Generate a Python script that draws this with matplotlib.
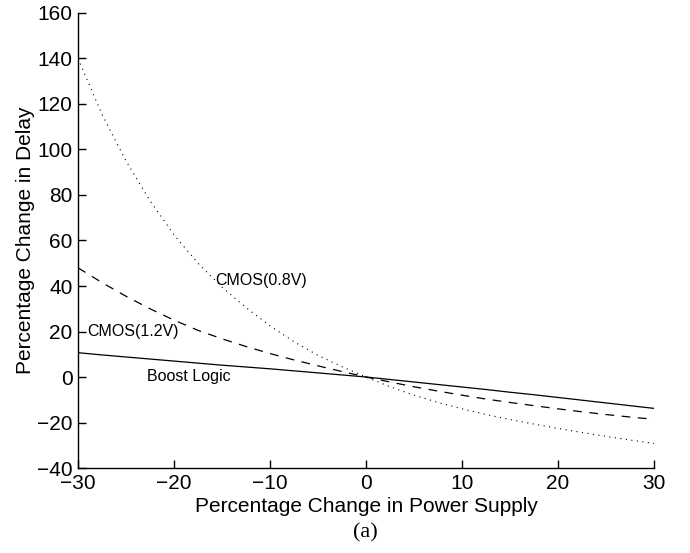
import matplotlib
matplotlib.use("Agg")
import matplotlib.pyplot as plt

plt.rcParams['font.family'] = ['Liberation Sans', 'DejaVu Sans']

# Percentage change in supply voltage
supply = [-30, -27.5, -25, -22.5, -20, -17.5, -15, -12.5, -10, -7.5, -5, -2.5,
          0, 2.5, 5, 7.5, 10, 12.5, 15, 17.5, 20, 22.5, 25, 27.5, 30]

# Percentage change in delay for each logic style
cmos_08 = [140, 115.5, 95, 77.5, 62.5, 50, 39.5, 30.5, 22.5, 15.5, 9.5, 4.5,
           0, -4.3, -8.0, -11.2, -14.0, -16.5, -18.7, -20.7, -22.6, -24.4, -26.1, -27.7, -29.2]
cmos_12 = [48, 41.5, 35.5, 30, 25, 20.5, 16.8, 13.4, 10.3, 7.5, 4.9, 2.4,
           0, -2.2, -4.3, -6.2, -8, -9.7, -11.2, -12.6, -14, -15.3, -16.5, -17.6, -18.6]
boost = [10.7, 9.7, 8.8, 7.9, 7.0, 6.1, 5.2, 4.4, 3.6, 2.7, 1.8, 0.9,
         0, -1.1, -2.2, -3.3, -4.4, -5.5, -6.7, -7.8, -9.0, -10.2, -11.4, -12.6, -13.8]

xticks = [-30, -20, -10, 0, 10, 20, 30]
yticks = [-40, -20, 0, 20, 40, 60, 80, 100, 120, 140, 160]

fig = plt.figure(figsize=(6.9, 5.53), dpi=100)
ax = fig.add_axes([0.113, 0.1537, 0.835, 0.8228])

ax.plot(supply, cmos_08, color='black', lw=0.8, linestyle=(0, (1, 4)))
ax.plot(supply, cmos_12, color='black', lw=0.9, linestyle=(0, (7, 6)))
ax.plot(supply, boost, color='black', lw=0.9, linestyle='-')

ax.text(-15.7, 42.6, 'CMOS(0.8V)', fontsize=11.5, va='center', ha='left')
ax.text(-29.0, 19.8, 'CMOS(1.2V)', fontsize=11.5, va='center', ha='left')
ax.text(-22.8, 0.2, 'Boost Logic', fontsize=11.5, va='center', ha='left')

ax.set_xlim(-30, 30)
ax.set_ylim(-40, 160)
ax.set_xticks(xticks)
ax.set_yticks(yticks)
ax.tick_params(direction='in', length=6, width=1.0, labelsize=15, pad=4)

for side in ('top', 'right'):
    ax.spines[side].set_visible(False)
for side in ('left', 'bottom'):
    ax.spines[side].set_linewidth(1.0)

ax.set_xlabel('Percentage Change in Power Supply', fontsize=15, labelpad=3)
ax.set_ylabel('Percentage Change in Delay', fontsize=15, labelpad=1)

fig.text(0.530, 1 - 533 / 553, '(a)', fontsize=16, ha='center', va='center',
         family=['Liberation Serif', 'DejaVu Serif'])

fig.savefig('out.png', dpi=100)
